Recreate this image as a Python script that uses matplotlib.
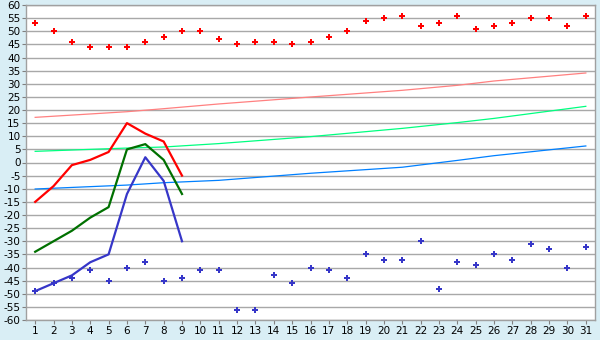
import matplotlib
matplotlib.use("Agg")
import matplotlib.pyplot as plt
import numpy as np

days = np.arange(1, 32)

high_pts = [53, 50, 46, 44, 44, 44, 46, 48, 50, 50, 47, 45, 46, 46, 45, 46,
            48, 50, 54, 55, 56, 52, 53, 56, 51, 52, 53, 55, 55, 52, 56]
low_pts = [-49, -46, -44, -41, -45, -40, -38, -45, -44, -41, -41, -56, -56, -43, -46, -40,
           -41, -44, -35, -37, -37, -30, -48, -38, -39, -35, -37, -31, -33, -40, -32]

line_days = np.arange(1, 10)
red_line = [-15, -9, -1, 1, 4, 15, 11, 8, -5]
green_line = [-34, -30, -26, -21, -17, 5, 7, 1, -12]
blue_line = [-49, -46, -43, -38, -35, -12, 2, -7, -30]

trend_days = [1, 6, 8, 11, 16, 21, 24, 26, 31]
pink_trend = [17.2, 19.35, 20.5, 22.3, 24.95, 27.5, 29.4, 31.05, 34.1]
lgreen_trend = [4.25, 5.5, 5.9, 7.2, 9.85, 13.0, 15.2, 16.8, 21.4]
lblue_trend = [-10.1, -8.6, -7.7, -6.8, -4.1, -1.8, 0.8, 2.6, 6.3]

plt.rcParams["font.family"] = "DejaVu Sans"
plt.rcParams["axes.unicode_minus"] = False

fig = plt.figure(figsize=(6, 3.4), dpi=100, facecolor="#D9EEF5")
ax = fig.add_axes([26 / 600, 20 / 340, 569 / 600, 315 / 340])
ax.set_facecolor("white")

ax.set_ylim(-60, 60)
ax.set_xlim(0.5, 31.5)
ax.set_yticks(np.arange(-60, 61, 5))
ax.set_xticks(days)
ax.grid(True, axis="y", color="#A8A8A8", linewidth=1.0)
ax.set_axisbelow(True)

ax.plot(trend_days, pink_trend, color="#FF8080", linewidth=0.9)
ax.plot(trend_days, lgreen_trend, color="#00FF80", linewidth=0.9)
ax.plot(trend_days, lblue_trend, color="#0080FF", linewidth=0.9)

ax.plot(line_days, red_line, color="#FF0000", linewidth=1.6)
ax.plot(line_days, green_line, color="#007000", linewidth=1.6)
ax.plot(line_days, blue_line, color="#3636C8", linewidth=1.6)

ax.plot(days, high_pts, linestyle="none", marker="P", markersize=5,
        color="#FF0000", markeredgewidth=0)
ax.plot(days, low_pts, linestyle="none", marker="P", markersize=5,
        color="#3636C8", markeredgewidth=0)

for side in ["top", "right", "left", "bottom"]:
    ax.spines[side].set_color("#A0A0A0")
    ax.spines[side].set_linewidth(1.0)

ax.tick_params(axis="both", labelsize=7.5, color="#808080", length=3, width=0.8, pad=1)

fig.savefig("out.png", dpi=100, facecolor=fig.get_facecolor())
